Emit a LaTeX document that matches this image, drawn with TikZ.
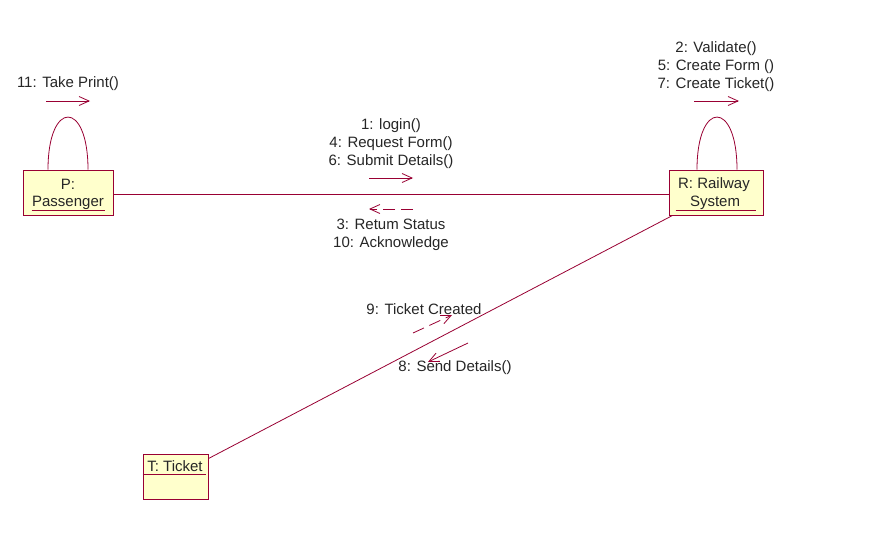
\documentclass[tikz,border=0pt]{standalone}
\usepackage{fontspec}
\setmainfont{Liberation Sans}
\usetikzlibrary{arrows.meta}
\definecolor{rose}{RGB}{153,0,51}
\definecolor{boxfill}{RGB}{255,255,204}
\begin{document}
\begin{tikzpicture}[x=1pt,y=-1pt,
  obj/.style={draw=rose,fill=boxfill,line width=0.9pt,inner sep=0pt},
  txt/.style={inner sep=0pt,align=center,yshift=-1.5pt,font=\fontsize{15}{18}\selectfont,text=black!85},
  link/.style={draw=rose,line width=0.8pt},
  msg/.style={draw=rose,line width=0.8pt,-{Straight Barb[length=10pt,width=9pt]}},
  rmsg/.style={msg,dash pattern=on 12pt off 6pt},
  uline/.style={draw=rose,line width=0.8pt}]
\useasboundingbox[fill=white] (0,0) rectangle (876,546);

% objects
\node[obj,minimum width=90pt,minimum height=45pt] (P) at (68,192.5) {};
\node[obj,minimum width=94pt,minimum height=45pt] (R) at (716,192.5) {};
\node[obj,minimum width=65pt,minimum height=45pt] (T) at (175.5,476.5) {};

\node[txt] (Pa) at (68,183) {P:};
\node[txt] (Pb) at (68,201) {Passenger};
\node[txt] (Ra) at (714,183) {R: Railway};
\node[txt] (Rb) at (715,201) {System};
\node[txt] (Ta) at (175,465) {T: Ticket};

\draw[uline] ([xshift=9pt,yshift=5pt]P.south west) -- ([xshift=-8pt,yshift=5pt]P.south east);
\draw[uline] ([xshift=7pt,yshift=5pt]R.south west) -- ([xshift=-7pt,yshift=5pt]R.south east);
\draw[uline] ([yshift=-21pt]T.north west) -- ([xshift=-2pt,yshift=-21pt]T.north east);

% links
\draw[link] ([yshift=-1.5pt]P.east) -- ([yshift=-1.5pt]R.west);
\coordinate (Rl) at ([xshift=4pt]R.south west);
\coordinate (Tl) at ([yshift=-5pt]T.north east);
\draw[link] (Rl) -- (Tl);

% self loops
\draw[link] ([xshift=-20pt]P.north) .. controls ([xshift=-20pt,yshift=70pt]P.north) and ([xshift=20pt,yshift=70pt]P.north) .. ([xshift=20pt]P.north);
\draw[link] ([xshift=-19pt]R.north) .. controls ([xshift=-19pt,yshift=70pt]R.north) and ([xshift=21pt,yshift=70pt]R.north) .. ([xshift=21pt]R.north);

% messages
\coordinate (m11a) at (46,101); \coordinate (m11b) at (90,101);
\draw[msg] (m11a) -- (m11b);
\node[txt] (l11) at (68,82) {11: Take Print()};

\coordinate (mRa) at (694,101); \coordinate (mRb) at (739,101);
\draw[msg] (mRa) -- (mRb);
\node[txt] (lR) at (716,65) {2: Validate()\\5: Create Form ()\\7: Create Ticket()};

\coordinate (mFa) at (369,178); \coordinate (mFb) at (413,178);
\draw[msg] (mFa) -- (mFb);
\node[txt] (lF) at (391,142.5) {1: login()\\4: Request Form()\\6: Submit Details()};

\coordinate (mBa) at (413,209); \coordinate (mBb) at (369,209);
\draw[rmsg] (mBa) -- (mBb);
\node[txt] (lB) at (391,233) {3: Retum Status\\10: Acknowledge};

\coordinate (m9a) at (413,333); \coordinate (m9b) at (452,315);
\draw[rmsg] (m9a) -- (m9b);
\node[txt] (l9) at (424,308) {9: Ticket Created};

\coordinate (m8a) at (468,343); \coordinate (m8b) at (428,362);
\draw[msg] (m8a) -- (m8b);
\node[txt] (l8) at (455,366) {8: Send Details()};
\end{tikzpicture}
\end{document}
